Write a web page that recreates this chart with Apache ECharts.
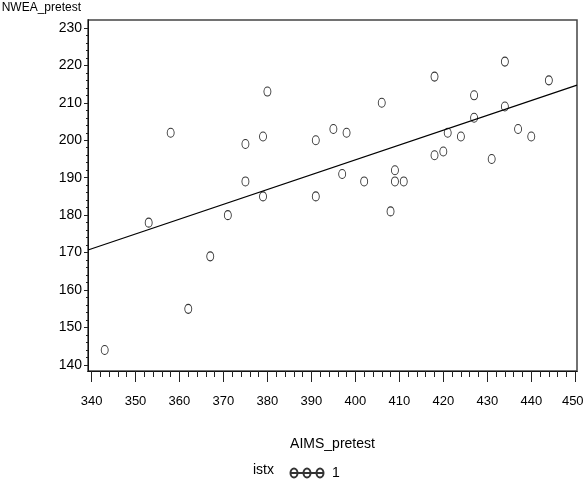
<!DOCTYPE html>
<html>
<head>
<meta charset="utf-8">
<script src="https://cdn.jsdelivr.net/npm/echarts@6/dist/echarts.min.js"></script>
<style>
  html, body { margin: 0; padding: 0; background: #fff; }
  #chart { width: 584px; height: 485px; }
</style>
</head>
<body>
<div id="chart"></div>
<script>
// AIMS_pretest vs NWEA_pretest, istx = 1
const aimsPretest = [343, 353, 358, 362, 367, 371, 375, 375, 379, 379, 380, 391, 391, 395, 397, 398, 402, 406, 408, 409, 409, 411, 418, 418, 420, 421, 424, 427, 427, 431, 434, 434, 437, 440, 444]
const nweaPretest = [144, 178, 202, 155, 169, 180, 199, 189, 201, 185, 213, 200, 185, 203, 191, 202, 189, 210, 181, 192, 189, 189, 217, 196, 197, 202, 201, 212, 206, 195, 221, 209, 203, 201, 216]

// fitted regression line, read at both ends of the plot
const fitX = [339.2, 450.4]
const fitY = [170.7, 214.7]

const xTicks = [340, 350, 360, 370, 380, 390, 400, 410, 420, 430, 440, 450]
const yTicks = [140, 150, 160, 170, 180, 190, 200, 210, 220, 230]

const FONT = '"Liberation Sans Narrow", "Liberation Sans", Arial, sans-serif'

function minorTicks(major){
    var out = []
    for (var i = 0; i < major.length - 1; i++){
        for (var k = 2; k < 10; k += 2) out.push(major[i] + k)
    }
    return out
}

var chart = echarts.init(document.getElementById('chart'))

var xBase = { type: 'value', min: 339.2, max: 450.4, position: 'bottom', splitLine: { show: false } }
var yBase = { type: 'value', min: 138.4, max: 232.1, position: 'left', splitLine: { show: false } }
var axisLine = { show: true, lineStyle: { color: '#111', width: 1 } }

chart.setOption({
    animation: false,
    backgroundColor: '#fff',
    title: {
        text: 'istx',
        left: 248, top: 458,
        textStyle: { fontFamily: FONT, fontSize: 14, fontWeight: 'normal', color: '#000' }
    },
    legend: {
        data: [{ name: '1', icon: 'path://M0 5 L34 5 M0.5 5 A3.5 4.5 0 1 1 7.5 5 A3.5 4.5 0 1 1 0.5 5 Z M13.5 5 A3.5 4.5 0 1 1 20.5 5 A3.5 4.5 0 1 1 13.5 5 Z M26.5 5 A3.5 4.5 0 1 1 33.5 5 A3.5 4.5 0 1 1 26.5 5 Z' }],
        left: 284, top: 461,
        itemWidth: 34, itemHeight: 10,
        textStyle: { fontFamily: FONT, fontSize: 14, color: '#000', padding: [0, 0, 0, 3] }
    },
    grid: {
        left: 88, right: 7, top: 20, bottom: 114,
        outerBoundsMode: 'none',
        containLabel: false,
        show: true, borderColor: '#444', borderWidth: 1.5, backgroundColor: 'transparent'
    },
    xAxis: [
        Object.assign({}, xBase, {
            axisLine: axisLine,
            axisTick: { customValues: minorTicks(xTicks), length: 6, lineStyle: { color: '#222' } },
            axisLabel: { show: false }
        }),
        Object.assign({}, xBase, {
            name: 'AIMS_pretest',
            nameLocation: 'middle',
            nameGap: 66,
            nameTextStyle: { fontFamily: FONT, fontSize: 14, color: '#000' },
            axisLine: axisLine,
            axisTick: { customValues: xTicks, length: 11, lineStyle: { color: '#222' } },
            axisLabel: {
                customValues: xTicks, margin: 24, fontFamily: FONT, fontSize: 13, color: '#000',
                // keep the last label inside the canvas
                formatter: (v) => v === xTicks[xTicks.length - 1] ? '{e|' + v + '}' : String(v),
                rich: { e: { fontFamily: FONT, fontSize: 13, color: '#000', padding: [0, 5, 0, 0] } }
            }
        })
    ],
    yAxis: [
        Object.assign({}, yBase, {
            axisLine: axisLine,
            axisTick: { customValues: minorTicks(yTicks), length: 2, lineStyle: { color: '#222' } },
            axisLabel: { show: false }
        }),
        Object.assign({}, yBase, {
            name: 'NWEA_pretest',
            nameLocation: 'end',
            nameGap: 6,
            nameTextStyle: { fontFamily: FONT, fontSize: 12, color: '#000', align: 'right', verticalAlign: 'bottom', padding: [0, 7, 0, 0] },
            axisLine: axisLine,
            axisTick: { customValues: yTicks, length: 4, lineStyle: { color: '#222' } },
            axisLabel: { customValues: yTicks, margin: 6, fontFamily: FONT, fontSize: 14, color: '#000' }
        })
    ],
    series: [
        {
            name: '1',
            type: 'scatter',
            data: aimsPretest.map((x, i) => [x, nweaPretest[i]]),
            symbol: 'circle',
            symbolSize: [7, 9],
            itemStyle: { color: 'rgba(0,0,0,0)', borderColor: '#000', borderWidth: 1 },
            z: 3
        },
        {
            name: 'fit',
            type: 'line',
            data: fitX.map((x, i) => [x, fitY[i]]),
            showSymbol: false,
            silent: true,
            lineStyle: { color: '#000', width: 1.2 },
            z: 2
        }
    ]
})
</script>
</body>
</html>
